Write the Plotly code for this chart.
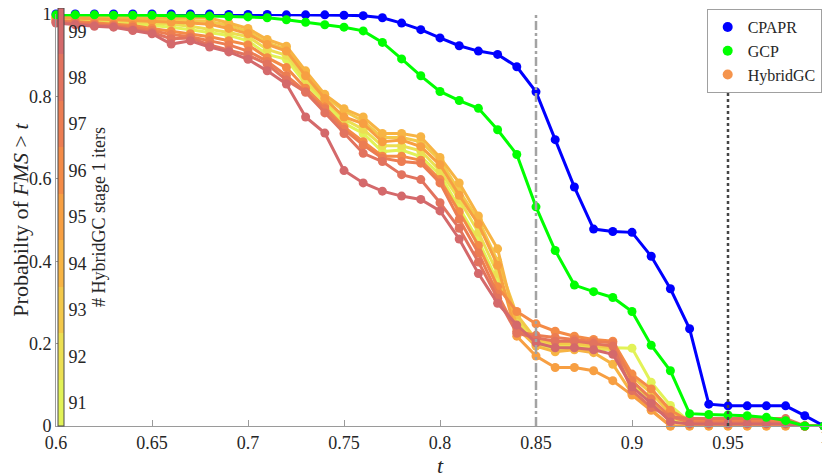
"""Survival-style curves of FMS for CPAPR, GCP and HybridGC runs."""
import plotly.graph_objects as go

# data
t_vals = [
    0.60, 0.61, 0.62, 0.63, 0.64, 0.65, 0.66, 0.67, 0.68, 0.69, 0.70,
    0.71, 0.72, 0.73, 0.74, 0.75, 0.76, 0.77, 0.78, 0.79, 0.80,
    0.81, 0.82, 0.83, 0.84, 0.85, 0.86, 0.87, 0.88, 0.89, 0.90,
    0.91, 0.92, 0.93, 0.94, 0.95, 0.96, 0.97, 0.98, 0.99, 1.00,
]

cpapr = [
    1.0, 1.0, 1.0, 1.0, 1.0, 1.0, 1.0, 1.0, 1.0, 0.999, 0.999,
    0.999, 0.998, 0.998, 0.998, 0.997, 0.996, 0.991, 0.978, 0.962, 0.942,
    0.923, 0.910, 0.902, 0.872, 0.811, 0.695, 0.580, 0.478, 0.472, 0.470,
    0.412, 0.333, 0.236, 0.053, 0.049, 0.049, 0.049, 0.049, 0.025, 0.0,
]

gcp = [
    0.998, 0.998, 0.998, 0.997, 0.997, 0.997, 0.996, 0.996, 0.995, 0.994, 0.993,
    0.991, 0.986, 0.980, 0.974, 0.968, 0.959, 0.931, 0.891, 0.850, 0.812,
    0.790, 0.771, 0.719, 0.659, 0.532, 0.426, 0.342, 0.326, 0.312, 0.278,
    0.196, 0.134, 0.030, 0.028, 0.027, 0.025, 0.021, 0.013, 0.0, 0.0,
]

hybrid_iters = [91, 92, 93, 94, 95, 96, 97, 98, 99]

hybrid_91 = [
    0.988, 0.985, 0.982, 0.980, 0.977, 0.972, 0.968, 0.962, 0.955, 0.948, 0.935,
    0.902, 0.890, 0.830, 0.785, 0.735, 0.710, 0.666, 0.670, 0.654, 0.610,
    0.530, 0.450, 0.350, 0.266, 0.198, 0.186, 0.188, 0.180, 0.190, 0.189,
    0.106, 0.050, 0.010, 0.010, 0.010, 0.010, 0.010, 0.010, 0.0, 0.0,
]
hybrid_92 = [
    0.990, 0.988, 0.985, 0.983, 0.980, 0.978, 0.975, 0.970, 0.962, 0.955, 0.945,
    0.914, 0.900, 0.840, 0.790, 0.745, 0.720, 0.680, 0.680, 0.668, 0.620,
    0.550, 0.470, 0.370, 0.255, 0.205, 0.195, 0.195, 0.190, 0.185, 0.102,
    0.060, 0.015, 0.005, 0.005, 0.005, 0.005, 0.005, 0.005, 0.0, 0.0,
]
hybrid_93 = [
    0.993, 0.992, 0.990, 0.990, 0.988, 0.987, 0.985, 0.984, 0.982, 0.972, 0.958,
    0.930, 0.915, 0.855, 0.800, 0.765, 0.740, 0.700, 0.700, 0.690, 0.645,
    0.570, 0.500, 0.400, 0.270, 0.210, 0.200, 0.200, 0.195, 0.190, 0.120,
    0.080, 0.030, 0.008, 0.008, 0.008, 0.008, 0.008, 0.008, 0.0, 0.0,
]
hybrid_94 = [
    0.995, 0.994, 0.993, 0.992, 0.990, 0.990, 0.990, 0.990, 0.990, 0.978, 0.965,
    0.938, 0.922, 0.862, 0.805, 0.770, 0.750, 0.710, 0.710, 0.702, 0.652,
    0.590, 0.510, 0.430, 0.238, 0.194, 0.180, 0.185, 0.178, 0.150, 0.079,
    0.040, 0.0, 0.0, 0.0, 0.0, 0.0, 0.0, 0.0, 0.0, 0.0,
]
hybrid_95 = [
    0.992, 0.990, 0.988, 0.986, 0.985, 0.983, 0.980, 0.978, 0.975, 0.965, 0.952,
    0.926, 0.910, 0.850, 0.795, 0.750, 0.734, 0.690, 0.694, 0.678, 0.634,
    0.560, 0.490, 0.390, 0.218, 0.170, 0.142, 0.142, 0.134, 0.110, 0.075,
    0.038, 0.0, 0.0, 0.0, 0.0, 0.0, 0.0, 0.0, 0.0, 0.0,
]
hybrid_96 = [
    0.985, 0.982, 0.978, 0.976, 0.972, 0.965, 0.958, 0.952, 0.945, 0.935, 0.925,
    0.894, 0.870, 0.820, 0.775, 0.726, 0.690, 0.655, 0.655, 0.645, 0.598,
    0.520, 0.438, 0.338, 0.278, 0.248, 0.230, 0.218, 0.210, 0.206, 0.126,
    0.090, 0.038, 0.012, 0.012, 0.012, 0.012, 0.012, 0.012, 0.0, 0.0,
]
hybrid_97 = [
    0.983, 0.980, 0.975, 0.972, 0.968, 0.960, 0.950, 0.945, 0.935, 0.925, 0.910,
    0.885, 0.850, 0.812, 0.770, 0.720, 0.682, 0.650, 0.642, 0.638, 0.590,
    0.502, 0.420, 0.320, 0.230, 0.220, 0.215, 0.210, 0.205, 0.202, 0.110,
    0.066, 0.022, 0.010, 0.010, 0.010, 0.010, 0.010, 0.010, 0.0, 0.0,
]
hybrid_98 = [
    0.980, 0.976, 0.972, 0.970, 0.962, 0.955, 0.940, 0.942, 0.925, 0.912, 0.900,
    0.878, 0.840, 0.810, 0.760, 0.710, 0.662, 0.642, 0.610, 0.598, 0.542,
    0.480, 0.398, 0.310, 0.225, 0.214, 0.206, 0.206, 0.200, 0.194, 0.086,
    0.045, 0.022, 0.018, 0.018, 0.018, 0.018, 0.018, 0.018, 0.0, 0.0,
]
hybrid_99 = [
    0.978, 0.974, 0.970, 0.968, 0.960, 0.952, 0.927, 0.935, 0.920, 0.908, 0.890,
    0.862, 0.830, 0.750, 0.711, 0.620, 0.590, 0.570, 0.558, 0.550, 0.522,
    0.454, 0.370, 0.298, 0.245, 0.202, 0.190, 0.190, 0.185, 0.174, 0.095,
    0.055, 0.010, 0.005, 0.005, 0.005, 0.005, 0.005, 0.005, 0.0, 0.0,
]
hybrid_runs = [
    hybrid_91, hybrid_92, hybrid_93, hybrid_94, hybrid_95,
    hybrid_96, hybrid_97, hybrid_98, hybrid_99,
]

# the label at the right end is drawn as an annotation (plotly drops it)
x_ticks = [0.6, 0.65, 0.7, 0.75, 0.8, 0.85, 0.9, 0.95, 1.0]
x_tick_text = ["0.6", "0.65", "0.7", "0.75", "0.8", "0.85", "0.9", "0.95", ""]
x_end_label = "1"
y_ticks = [0, 0.2, 0.4, 0.6, 0.8, 1.0]
y_tick_text = ["0", "0.2", "0.4", "0.6", "0.8", "1"]

# discrete colormap, yellow (91) -> rose (99)
ITER_COLORS = [
    "#e2f257", "#ecdf52", "#f3c84a", "#f7b444", "#f79f42",
    "#f48b47", "#ec7d52", "#e2735e", "#d4696b",
]
BLUE = "#0000ff"
GREEN = "#00ff00"
TEXT = "#262626"
AXIS = "#9a9a9a"
FONT = "Liberation Serif"

n_bins = len(ITER_COLORS)
colorscale = []
for i, c in enumerate(ITER_COLORS):
    colorscale.append([i / n_bins, c])
    colorscale.append([(i + 1) / n_bins, c])

fig = go.Figure()

for it, run, col in zip(hybrid_iters, hybrid_runs, ITER_COLORS):
    fig.add_trace(
        go.Scatter(
            x=t_vals,
            y=run,
            mode="lines+markers",
            line=dict(color=col, width=3),
            marker=dict(size=9, color=[it] * len(run), coloraxis="coloraxis"),
            showlegend=False,
            cliponaxis=False,
        )
    )

for series, col in ((cpapr, BLUE), (gcp, GREEN)):
    fig.add_trace(
        go.Scatter(
            x=t_vals,
            y=series,
            mode="lines+markers",
            line=dict(color=col, width=3),
            marker=dict(size=9, color=col),
            showlegend=False,
            cliponaxis=False,
        )
    )

# marker-only legend entries, as in the original
for name, col in (("CPAPR", BLUE), ("GCP", GREEN), ("HybridGC", "#f5944c")):
    fig.add_trace(
        go.Scatter(
            x=[None], y=[None], mode="markers", name=name,
            marker=dict(size=10, color=col),
        )
    )

fig.add_vline(x=0.85, line=dict(color="#a3a3a3", width=2.5, dash="dashdot"), layer="above")
fig.add_vline(x=0.95, line=dict(color="#454545", width=2.5, dash="dot"), layer="above")

fig.add_annotation(
    x=x_ticks[-1],
    xref="x",
    y=0,
    yref="paper",
    text=x_end_label,
    showarrow=False,
    xanchor="center",
    yanchor="middle",
    yshift=-11,
    font=dict(family=FONT, size=18, color=TEXT),
)

# the page body adds an 8px offset; margins are set so the plot lands where
# the original has it inside the 830x476 window
fig.update_layout(
    width=830,
    height=476,
    margin=dict(l=48, r=14, t=6, b=58, autoexpand=False),
    paper_bgcolor="white",
    plot_bgcolor="white",
    font=dict(family=FONT, size=18, color=TEXT),
    coloraxis=dict(
        colorscale=colorscale,
        cmin=90.5,
        cmax=99.5,
        colorbar=dict(
            x=0.002,
            xanchor="left",
            y=0,
            yanchor="bottom",
            lenmode="pixels",
            len=418,
            thickness=6,
            xpad=0,
            ypad=0,
            outlinewidth=1,
            outlinecolor="#4a4a4a",
            tickvals=hybrid_iters,
            ticks="",
            tickfont=dict(family=FONT, size=18, color=TEXT),
            title=dict(
                text="# HybridGC stage 1 iters",
                side="right",
                font=dict(family=FONT, size=18, color=TEXT),
            ),
        ),
    ),
    legend=dict(
        x=0.997,
        xanchor="right",
        y=1.012,
        yanchor="top",
        bgcolor="white",
        bordercolor="#a0a0a0",
        borderwidth=1,
        font=dict(family=FONT, size=16, color=TEXT),
        tracegroupgap=0,
        itemwidth=30,
    ),
)

fig.update_xaxes(
    range=[0.6, 1.0],
    tickvals=x_ticks,
    ticktext=x_tick_text,
    ticks="inside",
    ticklen=6,
    tickcolor=AXIS,
    ticklabeloverflow="allow",
    showline=True,
    linecolor=AXIS,
    linewidth=1,
    showgrid=False,
    zeroline=False,
    title=dict(text="<i>t</i>", standoff=0),
)
fig.update_yaxes(
    range=[0, 1.0],
    tickvals=y_ticks,
    ticktext=y_tick_text,
    ticks="inside",
    ticklen=6,
    tickcolor=AXIS,
    ticklabeloverflow="allow",
    showline=True,
    linecolor=AXIS,
    linewidth=1,
    showgrid=False,
    zeroline=False,
    title=dict(text="Probabilty of <i>FMS</i> > <i>t</i>", standoff=16),
)

fig.write_html("out.html")
